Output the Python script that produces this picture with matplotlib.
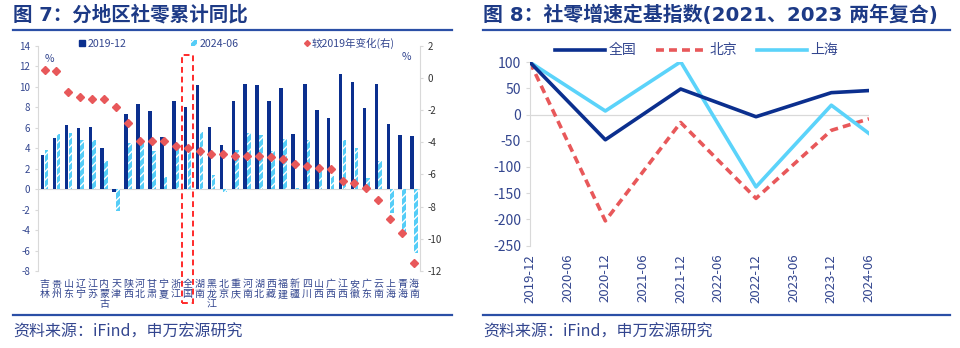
import numpy as np
import pandas as pd
import matplotlib
matplotlib.use('Agg')
import matplotlib.pyplot as plt
from matplotlib.patches import Patch, Rectangle
from matplotlib.lines import Line2D
import matplotlib.transforms as mtransforms

plt.rcParams['font.family'] = ['Noto Sans CJK SC', 'DejaVu Sans']
plt.rcParams['hatch.linewidth'] = 1.0
plt.rcParams['axes.unicode_minus'] = False

# ---------------- 数据：图7 分地区社零累计同比
regions = ['吉林', '贵州', '山东', '辽宁', '江苏', '内蒙古', '天津', '陕西', '河北', '甘肃', '宁夏',
           '浙江', '全国', '湖南', '黑龙江', '北京', '重庆', '河南', '湖北', '西藏', '福建', '新疆',
           '四川', '山西', '广西', '江西', '安徽', '广东', '云南', '上海', '青海', '海南']
yoy_2019 = [3.3, 5.0, 6.3, 6.0, 6.1, 4.0, -0.3, 7.3, 8.3, 7.6, 5.1, 8.6, 8.0, 10.2, 6.1, 4.3,
            8.6, 10.3, 10.2, 8.6, 9.9, 5.4, 10.3, 7.7, 6.9, 11.2, 10.5, 7.9, 10.3, 6.4, 5.3, 5.2]
yoy_2024 = [3.8, 5.4, 5.45, 4.8, 4.8, 2.7, -2.1, 4.5, 4.5, 3.75, 1.2, 4.0, 3.7, 5.6, 1.4, -0.3,
            3.8, 5.5, 5.3, 3.7, 4.9, 0.1, 4.8, 2.1, 1.3, 4.8, 4.0, 1.1, 2.7, -2.3, -4.4, -6.2]
chg_vs_2019 = [0.48, 0.4, -0.9, -1.2, -1.33, -1.33, -1.8, -2.83, -3.9, -3.9, -3.9, -4.23, -4.35,
               -4.53, -4.73, -4.73, -4.83, -4.83, -4.83, -4.92, -5.04, -5.33, -5.5, -5.62, -5.64,
               -6.43, -6.54, -6.83, -7.6, -8.77, -9.66, -11.49]

# ---------------- 数据：图8 社零增速定基指数
idx_dates = ['2019-12', '2020-12', '2021-12', '2022-12', '2023-12', '2024-06']
idx_quanguo = [100, -48, 49, -4, 42, 46]
idx_beijing = [100, -203, -15, -160, -30, -8]
idx_shanghai = [100, 7, 101, -138, 18, -36]
tick_dates = ['2019-12', '2020-06', '2020-12', '2021-06', '2021-12', '2022-06',
              '2022-12', '2023-06', '2023-12', '2024-06']

NAVY = '#0B2F8E'
LIGHT = '#55CDF7'
RED = '#E8585A'
TXT = '#33468F'
TITLE = '#1D3A86'
GRID = '#D9D9D9'

W, H = 960, 348
fig = plt.figure(figsize=(9.6, 3.48), dpi=100)

def fx(px): return px / W
def fy(py): return 1 - py / H

# 标题、分隔线、资料来源
title_font = ['DejaVu Sans', 'Noto Sans CJK SC']
fig.text(fx(13), fy(15), '图 7：分地区社零累计同比', fontsize=14, fontweight='bold',
         color=TITLE, va='center', ha='left', family=title_font)
fig.text(fx(483), fy(15), '图 8：社零增速定基指数(2021、2023 两年复合)', fontsize=14.3,
         fontweight='bold', color=TITLE, va='center', ha='left', family=title_font)
for x0, x1 in [(13, 452), (483, 950)]:
    fig.add_artist(Line2D([fx(x0), fx(x1)], [fy(30), fy(30)], color='#2B4FA6', lw=1.6))
    fig.add_artist(Line2D([fx(x0), fx(x1)], [fy(315), fy(315)], color='#2B4FA6', lw=1.6))
fig.text(fx(13), fy(332), '资料来源：iFind，申万宏源研究', fontsize=11.5, color=TXT,
         va='center', ha='left')
fig.text(fx(483), fy(332), '资料来源：iFind，申万宏源研究', fontsize=11.5, color=TXT,
         va='center', ha='left')

# ---------------- 左图
ax = fig.add_axes([fx(38), fy(271), fx(420) - fx(38), fy(45.7) - fy(271)])
x = np.arange(len(regions))
bw = 0.3
ax.bar(x - 0.16, yoy_2019, width=bw, color=NAVY, label='2019-12', zorder=2)
ax.bar(x + 0.16, yoy_2024, width=bw, facecolor=LIGHT, edgecolor='white', hatch='////',
       linewidth=0, label='2024-06', zorder=2)
ax.axhline(0, color=GRID, lw=0.8, zorder=1)
ax.set_xlim(-0.55, len(regions) - 0.5)
ax.set_ylim(-8, 14)
ax.set_yticks(np.arange(-8, 15, 2))
ax.set_xticks(x)
ax.set_xticklabels(['\n'.join(r) for r in regions], fontsize=7.2, linespacing=1.0, color=TXT)
ax.tick_params(axis='x', length=0, pad=6)
ax.tick_params(axis='y', labelsize=7, colors=GRID, labelcolor=TXT, length=2)
for s in ['top', 'right', 'bottom']:
    ax.spines[s].set_visible(False)
ax.spines['left'].set_color(GRID)

ax2 = ax.twinx()
ax2.plot(x, chg_vs_2019, ls='none', marker='D', ms=4.5, color=RED, label='较2019年变化(右)',
         zorder=3)
ax2.set_ylim(-12, 2)
ax2.set_yticks(np.arange(-12, 3, 2))
ax2.tick_params(axis='y', labelsize=7, colors=GRID, labelcolor='#333333', length=2)
for s in ['top', 'left', 'bottom']:
    ax2.spines[s].set_visible(False)
ax2.spines['right'].set_color(GRID)

ax2.text(0.03, 0.94, '%', transform=ax2.transAxes, fontsize=7.5, color=TXT, ha='center', va='center')
ax2.text(0.965, 0.95, '%', transform=ax2.transAxes, fontsize=7.5, color=TXT, ha='center', va='center')

handles = [Patch(facecolor=NAVY, edgecolor=NAVY),
           Patch(facecolor=LIGHT, edgecolor='white', hatch='////', linewidth=0),
           Line2D([], [], ls='none', marker='D', ms=3, color=RED)]
leg = ax2.legend(handles, ['2019-12', '2024-06', '较2019年变化(右)'], ncol=3, frameon=False,
                 fontsize=7.6, loc='center left', bbox_to_anchor=(0.108, 1.012),
                 handlelength=0.55, handleheight=0.55, handletextpad=0.2, columnspacing=6.2,
                 borderpad=0, borderaxespad=0)
for t in leg.get_texts():
    t.set_color(TXT)

# 全国 红色虚线框
i_qg = regions.index('全国')
trans = mtransforms.blended_transform_factory(ax2.transData, ax2.transAxes)
ax2.add_patch(Rectangle((i_qg - 0.5, -0.14), 0.95, 1.1, transform=trans, fill=False,
                        edgecolor='#FF2A2A', lw=1.4, ls=(0, (3, 2)), clip_on=False, zorder=5))

# ---------------- 右图
bx = fig.add_axes([fx(530), fy(245.5), fx(869) - fx(530), fy(62.3) - fy(245.5)])
base = pd.Period('2019-12', 'M')
xm = [(pd.Period(d, 'M') - base).n for d in idx_dates]
xt = [(pd.Period(d, 'M') - base).n for d in tick_dates]
bx.plot(xm, idx_quanguo, color=NAVY, lw=2.6, label='全国', zorder=3)
bx.plot(xm, idx_beijing, color=RED, lw=2.6, ls=(0, (2.2, 1.4)), label='北京', zorder=2)
bx.plot(xm, idx_shanghai, color='#5BD3FA', lw=2.6, label='上海', zorder=2)
bx.axhline(0, color=GRID, lw=0.9, zorder=1)
bx.set_xlim(0, xt[-1])
bx.set_ylim(-250, 100)
bx.set_yticks(np.arange(-250, 101, 50))
bx.set_xticks(xt)
bx.set_xticklabels(tick_dates, rotation=90, fontsize=9.5, color=TXT)
bx.tick_params(axis='x', length=0, pad=6)
bx.tick_params(axis='y', labelsize=10, labelcolor=TXT, colors=GRID, length=3)
for s in ['top', 'right', 'bottom']:
    bx.spines[s].set_visible(False)
bx.spines['left'].set_color(GRID)
leg2 = bx.legend(ncol=3, frameon=False, fontsize=10, loc='center left',
                 bbox_to_anchor=(0.075, 1.065), handlelength=3.6, handletextpad=0.25,
                 columnspacing=1.4, borderpad=0, borderaxespad=0)
for t in leg2.get_texts():
    t.set_color(TXT)

fig.savefig('out.png', dpi=100)
